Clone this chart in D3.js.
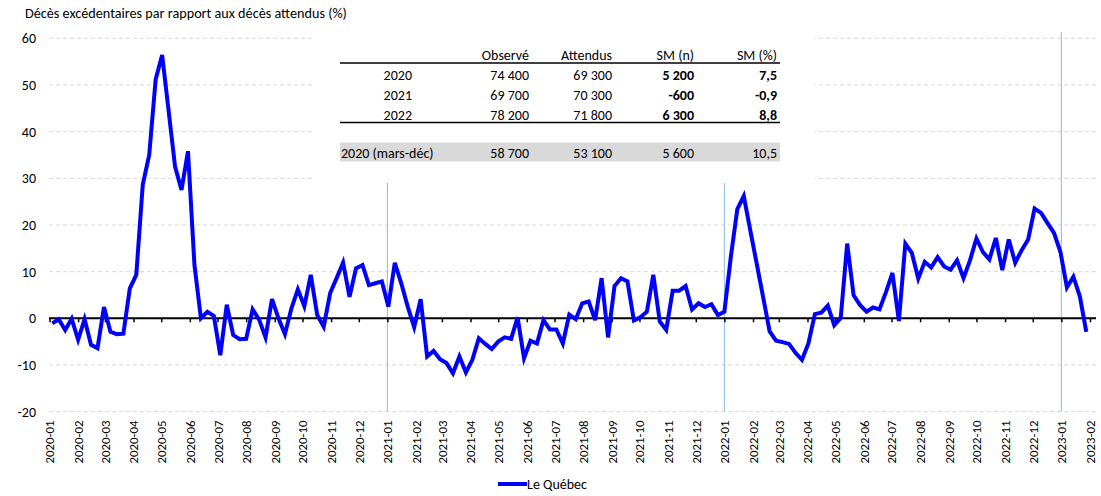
<!DOCTYPE html>
<html>
<head>
<meta charset="utf-8">
<script src="https://cdn.jsdelivr.net/npm/d3@7"></script>
<style>
  body { margin: 0; background: #fff; }
  text { font-family: Carlito, Calibri, Lato, sans-serif; fill: #000; }
</style>
</head>
<body>
<div id="chart"></div>
<script>
// weekly excess deaths (%), one value per week, first week ends 2020-01-04
const values2020 = [-1.1, -0.2, -2.5, -0.1, -4.6, -0.2, -5.7, -6.4, 2.4, -2.9,
    -3.4, -3.3, 6.4, 9.3, 28.6, 35.0, 51.2, 56.4, 44.5, 32.5,
    27.5, 35.8, 11.4, 0.0, 1.4, 0.5, -7.9, 2.9, -3.6, -4.5,
    -4.4, 1.9, -0.3, -4.1, 4.1, 0.0, -3.4, 2.1, 6.2, 2.6,
    9.3, 0.7, -1.8, 5.4, 8.6, 11.9, 4.6, 10.7, 11.4, 7.1, 7.5, 7.9]
const values2021 = [2.5, 11.9, 7.5, 2.5, -1.9, 4.1, -8.2, -7.0, -8.8, -9.6,
    -11.8, -8.2, -11.6, -8.9, -4.3, -5.5, -6.6, -5.0, -4.1, -4.4,
    0.2, -8.6, -4.8, -5.4, -0.4, -2.4, -2.4, -5.4, 0.8, -0.2,
    3.2, 3.6, -0.4, 8.6, -4.1, 6.9, 8.6, 7.9, -0.5, 0.2,
    1.4, 9.3, -0.7, -2.5, 5.9, 5.9, 6.9, 1.9, 3.2, 2.4, 3.0, 0.7]
const values2022 = [1.4, 13.2, 23.4, 26.2, 18.9, 11.7, 4.5, -2.8, -4.8, -5.1,
    -5.5, -7.4, -8.9, -5.4, 0.9, 1.2, 2.7, -1.5, 0.1, 16.0,
    4.9, 2.8, 1.4, 2.3, 1.9, 5.6, 9.7, -0.6, 16.0, 14.0,
    8.5, 12.1, 10.9, 13.1, 11.1, 10.4, 12.4, 8.6, 12.4, 17.1,
    14.2, 12.6, 17.2, 10.3, 16.9, 11.9, 14.6, 16.9, 23.5, 22.6,
    20.4, 18.3, 14.2]
const values2023 = [6.6, 8.9, 4.7, -2.9]

const firstWeek = new Date(2020, 0, 4)
const seriesName = "Le Québec"
const yTicks = [-20, -10, 0, 10, 20, 30, 40, 50, 60]
const yearMarks = [new Date(2021, 0, 1), new Date(2022, 0, 1), new Date(2023, 0, 1)]

// summary table
const tableHeader = ["Observé", "Attendus", "SM (n)", "SM (%)"]
const tableRows = [
    ["2020", "74 400", "69 300", "5 200", "7,5"],
    ["2021", "69 700", "70 300", "-600", "-0,9"],
    ["2022", "78 200", "71 800", "6 300", "8,8"]
]
const tableTotal = ["2020 (mars-déc)", "58 700", "53 100", "5 600", "10,5"]

const values = values2020.concat(values2021, values2022, values2023)
const data = values.map((v, i) => ({date: d3.timeDay.offset(firstWeek, 7 * i), value: v}))

const width = 1101
const height = 496

const svg = d3.select("#chart").append("svg")
    .attr("width", width)
    .attr("height", height)

// scales

const xScale = d3.scaleTime()
    .domain([new Date(2020, 0, 1), new Date(2023, 1, 1)])
    .range([49.5, 1090])
const yScale = d3.scaleLinear()
    .domain([-20, 60])
    .range([411.6, 38.3])

const gridRight = 1096

// title

svg.append("text")
    .attr("x", 25)
    .attr("y", 18)
    .style("font-size", "14.2px")
    .text("Décès excédentaires par rapport aux décès attendus (%)")

// horizontal dashed grid + y labels

svg.append("g")
    .selectAll("line")
    .data(yTicks.filter(d => d !== 0))
    .join("line")
    .attr("x1", 49)
    .attr("x2", gridRight)
    .attr("y1", d => yScale(d))
    .attr("y2", d => yScale(d))
    .attr("stroke", "#d9d9d9")
    .attr("stroke-dasharray", "4,3")

svg.append("g")
    .selectAll("text")
    .data(yTicks)
    .join("text")
    .attr("x", 36)
    .attr("y", d => yScale(d))
    .attr("dy", "0.35em")
    .attr("text-anchor", "end")
    .style("font-size", "14px")
    .text(d => d)

// year separators

svg.append("g")
    .selectAll("line")
    .data(yearMarks)
    .join("line")
    .attr("x1", d => xScale(d))
    .attr("x2", d => xScale(d))
    .attr("y1", 32)
    .attr("y2", yScale(-20))
    .attr("stroke", "#9dc3e6")
    .attr("stroke-width", 1.2)

// zero line with month ticks

const months = d3.timeMonth.range(new Date(2020, 0, 1), new Date(2023, 1, 2))

const zeroAxis = svg.append("g")
    .attr("transform", "translate(0," + yScale(0) + ")")
    .call(d3.axisBottom(xScale).tickValues(months).tickSize(4).tickSizeOuter(0).tickFormat(""))
zeroAxis.select(".domain").remove()
zeroAxis.selectAll(".tick line").attr("stroke", "#000").attr("stroke-width", 1.5)

svg.append("line")
    .attr("x1", 49)
    .attr("x2", gridRight)
    .attr("y1", yScale(0))
    .attr("y2", yScale(0))
    .attr("stroke", "#000")
    .attr("stroke-width", 2)

// month labels at the bottom

const labelAxis = svg.append("g")
    .attr("transform", "translate(0," + yScale(-20) + ")")
    .call(d3.axisBottom(xScale).tickValues(months).tickSize(0).tickFormat(d3.timeFormat("%Y-%m")))
labelAxis.select(".domain").remove()
labelAxis.selectAll("text")
    .attr("transform", "rotate(-90)")
    .attr("text-anchor", "end")
    .attr("x", -9)
    .attr("y", 0)
    .attr("dy", "0.35em")
    .style("font-size", "12.8px")
    .style("font-family", "Carlito, Calibri, Lato, sans-serif")
    .attr("fill", "#000")

// white box holding the table

svg.append("rect")
    .attr("x", 312)
    .attr("y", 26)
    .attr("width", 503)
    .attr("height", 157)
    .attr("fill", "#fff")

const colRight = [529, 612, 694, 777]

const table = svg.append("g").style("font-size", "14px")

table.selectAll(".head")
    .data(tableHeader)
    .join("text")
    .attr("class", "head")
    .attr("x", (d, i) => colRight[i])
    .attr("y", 59.5)
    .attr("text-anchor", "end")
    .text(d => d)

table.append("line").attr("x1", 340).attr("x2", 780).attr("y1", 63).attr("y2", 63)
    .attr("stroke", "#000").attr("stroke-width", 1.3)
table.append("line").attr("x1", 340).attr("x2", 780).attr("y1", 122.5).attr("y2", 122.5)
    .attr("stroke", "#000").attr("stroke-width", 1.3)

tableRows.forEach((row, r) => {
    const y = 80 + r * 20
    table.append("text").attr("x", 412).attr("y", y).attr("text-anchor", "end").text(row[0])
    row.slice(1).forEach((cell, c) => {
        table.append("text")
            .attr("x", colRight[c])
            .attr("y", y)
            .attr("text-anchor", "end")
            .style("font-weight", c >= 2 ? "bold" : "normal")
            .text(cell)
    })
})

table.append("rect")
    .attr("x", 340)
    .attr("y", 142.5)
    .attr("width", 440)
    .attr("height", 19)
    .attr("fill", "#d9d9d9")
table.append("text").attr("x", 341).attr("y", 157.5).text(tableTotal[0])
tableTotal.slice(1).forEach((cell, c) => {
    table.append("text")
        .attr("x", colRight[c])
        .attr("y", 157.5)
        .attr("text-anchor", "end")
        .text(cell)
})

// data line

const line = d3.line()
    .x(d => xScale(d.date))
    .y(d => yScale(d.value))

svg.append("path")
    .datum(data)
    .attr("d", line)
    .attr("fill", "none")
    .attr("stroke", "#0000ff")
    .attr("stroke-width", 4)
    .attr("stroke-linejoin", "miter")

// legend

svg.append("line")
    .attr("x1", 498).attr("x2", 527)
    .attr("y1", 484).attr("y2", 484)
    .attr("stroke", "#0000ff")
    .attr("stroke-width", 4)
svg.append("text")
    .attr("x", 527)
    .attr("y", 489)
    .style("font-size", "14px")
    .text(seriesName)
</script>
</body>
</html>
